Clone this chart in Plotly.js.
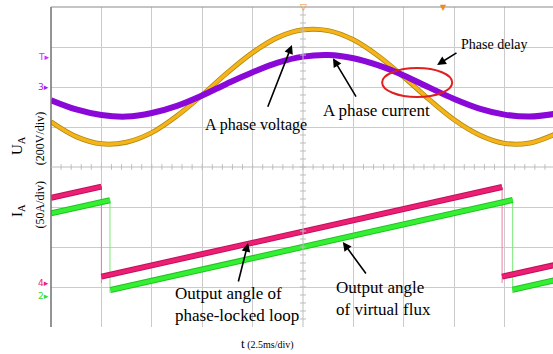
<!DOCTYPE html>
<html><head><meta charset="utf-8">
<script src="https://cdn.plot.ly/plotly-3.0.1.min.js"></script>
<style>html,body{margin:0;padding:0;background:#fff}#chart{width:553px;height:354px}</style>
</head><body><div id="chart"></div>
<script>
// time in divisions (2.5 ms/div)
const tDiv = [0,0.5,1,1.5,2,2.5,3,3.5,4,4.5,5,5.5,6,6.5,7,7.5,8,8.5,9,9.5,10];
// A phase voltage (screen divisions)
const phaseVoltage = [5.13,4.76,4.58,4.62,4.86,5.28,5.80,6.36,6.86,7.24,7.43,7.41,7.18,6.77,6.25,5.69,5.18,4.80,4.59,4.60,4.82];
// A phase current (screen divisions)
const phaseCurrent = [5.67,5.44,5.30,5.26,5.35,5.53,5.79,6.09,6.37,6.61,6.76,6.80,6.72,6.54,6.29,5.99,5.70,5.46,5.31,5.26,5.33];
// Output angle of phase-locked loop (sawtooth)
const pllRampT = [0,1.0,null,1.0,8.95,null,8.95,10];
const pllRampAngle = [3.23,3.51,null,1.26,3.50,null,1.26,1.55];
const pllResetT = [1.0,1.0,null,8.95,8.95];
const pllResetAngle = [3.51,1.10,null,3.50,1.10];
// Output angle of virtual flux (sawtooth)
const fluxRampT = [0,1.17,null,1.18,9.16,null,9.16,10];
const fluxRampAngle = [2.84,3.17,null,0.925,3.175,null,0.93,1.17];
const fluxResetT = [1.17,1.17,null,9.16,9.16];
const fluxResetAngle = [3.17,0.85,null,3.175,0.85];

const serif = 'Liberation Serif, Times New Roman, serif';

const traces = [
  {x: fluxResetT, y: fluxResetAngle, mode:'lines', line:{color:'#7be87b', width:1}, hoverinfo:'skip'},
  {x: pllResetT, y: pllResetAngle, mode:'lines', line:{color:'#ee7aa6', width:1}, hoverinfo:'skip'},
  {x: fluxRampT, y: fluxRampAngle, mode:'lines', line:{color:'#22c222', width:6}, hoverinfo:'skip'},
  {x: fluxRampT, y: fluxRampAngle, mode:'lines', line:{color:'#33f033', width:4}, hoverinfo:'skip'},
  {x: pllRampT, y: pllRampAngle, mode:'lines', line:{color:'#c0105a', width:6}, hoverinfo:'skip'},
  {x: pllRampT, y: pllRampAngle, mode:'lines', line:{color:'#ec1f74', width:4}, hoverinfo:'skip'},
  {x: tDiv, y: phaseVoltage, mode:'lines', line:{color:'#b08a10', width:5, shape:'spline'}, hoverinfo:'skip'},
  {x: tDiv, y: phaseVoltage, mode:'lines', line:{color:'#f6b41a', width:3.4, shape:'spline'}, hoverinfo:'skip'},
  {x: tDiv, y: phaseCurrent, mode:'lines', line:{color:'#8a08d8', width:6, shape:'spline'}, hoverinfo:'skip'}
];

const shapes = [];
// borders
shapes.push({type:'line', xref:'paper', yref:'paper', x0:0, x1:0, y0:0, y1:1, line:{color:'#707070', width:1.5}});
shapes.push({type:'line', xref:'paper', yref:'paper', x0:0, x1:1, y0:1, y1:1, line:{color:'#8a8a8a', width:1}});
// center lines with minor ticks
shapes.push({type:'line', xref:'x', yref:'paper', x0:5, x1:5, y0:0, y1:1, line:{color:'#bdbdbd', width:1}});
shapes.push({type:'line', xref:'paper', yref:'y', x0:0, x1:1, y0:4, y1:4, line:{color:'#bdbdbd', width:1}});
for (let i = 1; i < 50; i++) {
  const v = i * 0.2;
  shapes.push({type:'line', xref:'x', yref:'y', x0:v, x1:v, y0:3.93, y1:4.07, line:{color:'#bdbdbd', width:1}});
}
for (let i = 1; i < 40; i++) {
  const v = i * 0.2;
  shapes.push({type:'line', xref:'x', yref:'y', x0:4.94, x1:5.06, y0:v, y1:v, line:{color:'#bdbdbd', width:1}});
}
// phase delay ellipse
shapes.push({type:'circle', xref:'x', yref:'y', x0:6.57, x1:7.96, y0:5.75, y1:6.475, line:{color:'#e02020', width:2}});

function arrow(x, y, ax, ay) {
  return {x:x, y:y, ax:ax, ay:ay, xref:'x', yref:'y', axref:'x', ayref:'y', text:'', showarrow:true,
          arrowhead:2, arrowsize:1.1, arrowwidth:1.6, arrowcolor:'#000'};
}
function label(text, x, y, size, xanchor, align) {
  return {x:x, y:y, xref:'x', yref:'y', text:text, showarrow:false, xanchor:xanchor||'center', yanchor:'middle', align:align||'center',
          font:{family:serif, size:size, color:'#000'}};
}
function sideLabel(text, x, y, size) {
  return {xref:'paper', yref:'paper', x:x, y:y, xanchor:'center', yanchor:'middle', text:text, textangle:-90,
          showarrow:false, font:{family:serif, size:size, color:'#000'}};
}
function marker(text, y, color) {
  return {xref:'paper', yref:'y', x:0, y:y, xanchor:'right', yanchor:'middle', text:text, showarrow:false,
          font:{family:'DejaVu Sans', size:9, color:color}};
}

const annotations = [
  label('A phase voltage', 4.07, 5.05, 16),
  arrow(4.78, 7.05, 4.29, 5.47),
  label('A phase current', 6.45, 5.42, 17),
  arrow(5.595, 6.72, 6.07, 5.72),
  label('Phase delay', 8.79, 7.07, 14),
  arrow(7.66, 6.55, 8.075, 6.875),
  label('Output angle of<br>phase-locked loop', 2.42, 0.57, 17, 'left', 'left'),
  arrow(3.91, 2.1, 3.71, 1.1),
  label('Output angle<br>of virtual flux', 5.62, 0.72, 17, 'left', 'left'),
  arrow(5.79, 2.125, 6.27, 1.3),
  // axis labels
  sideLabel('U<sub>A</sub>', -0.066, 0.568, 15),
  sideLabel('(200V/div)', -0.022, 0.59, 12),
  sideLabel('I<sub>A</sub>', -0.066, 0.365, 15),
  sideLabel('(50A/div)', -0.022, 0.383, 12),
  {xref:'paper', yref:'paper', x:0.432, y:-0.05, xanchor:'center', yanchor:'middle',
   text:'<span style="font-size:13px">t</span> (2.5ms/div)', showarrow:false,
   font:{family:serif, size:10, color:'#000'}},
  // channel markers
  marker('T▸', 6.75, '#cc33ff'),
  marker('3▸', 6.0, '#a020f0'),
  marker('4▸', 1.1, '#ee2277'),
  marker('2▸', 0.78, '#33dd33'),
  // top markers
  {xref:'x', yref:'paper', x:5.0, y:1, yanchor:'middle', text:'▽', showarrow:false, font:{family:'DejaVu Sans', size:9, color:'#f08a20'}},
  {xref:'x', yref:'paper', x:7.78, y:1, yanchor:'middle', text:'▼', showarrow:false, font:{family:'DejaVu Sans', size:8, color:'#f08a20'}}
];

const layout = {
  width:553, height:354,
  margin:{l:51, r:0, t:7, b:27, pad:0},
  paper_bgcolor:'#fff', plot_bgcolor:'#fff',
  showlegend:false,
  xaxis:{range:[0,9.96], tickvals:[1,2,3,4,6,7,8,9], showgrid:true, gridcolor:'#cbcbcb', gridwidth:1,
         zeroline:false, showticklabels:false, ticks:'', showline:false, fixedrange:true},
  yaxis:{range:[0,8], tickvals:[1,2,3,5,6,7], showgrid:true, gridcolor:'#cbcbcb', gridwidth:1,
         zeroline:false, showticklabels:false, ticks:'', showline:false, fixedrange:true},
  shapes:shapes,
  annotations:annotations
};

Plotly.newPlot('chart', traces, layout, {staticPlot:true, displayModeBar:false});
</script>
</body></html>
